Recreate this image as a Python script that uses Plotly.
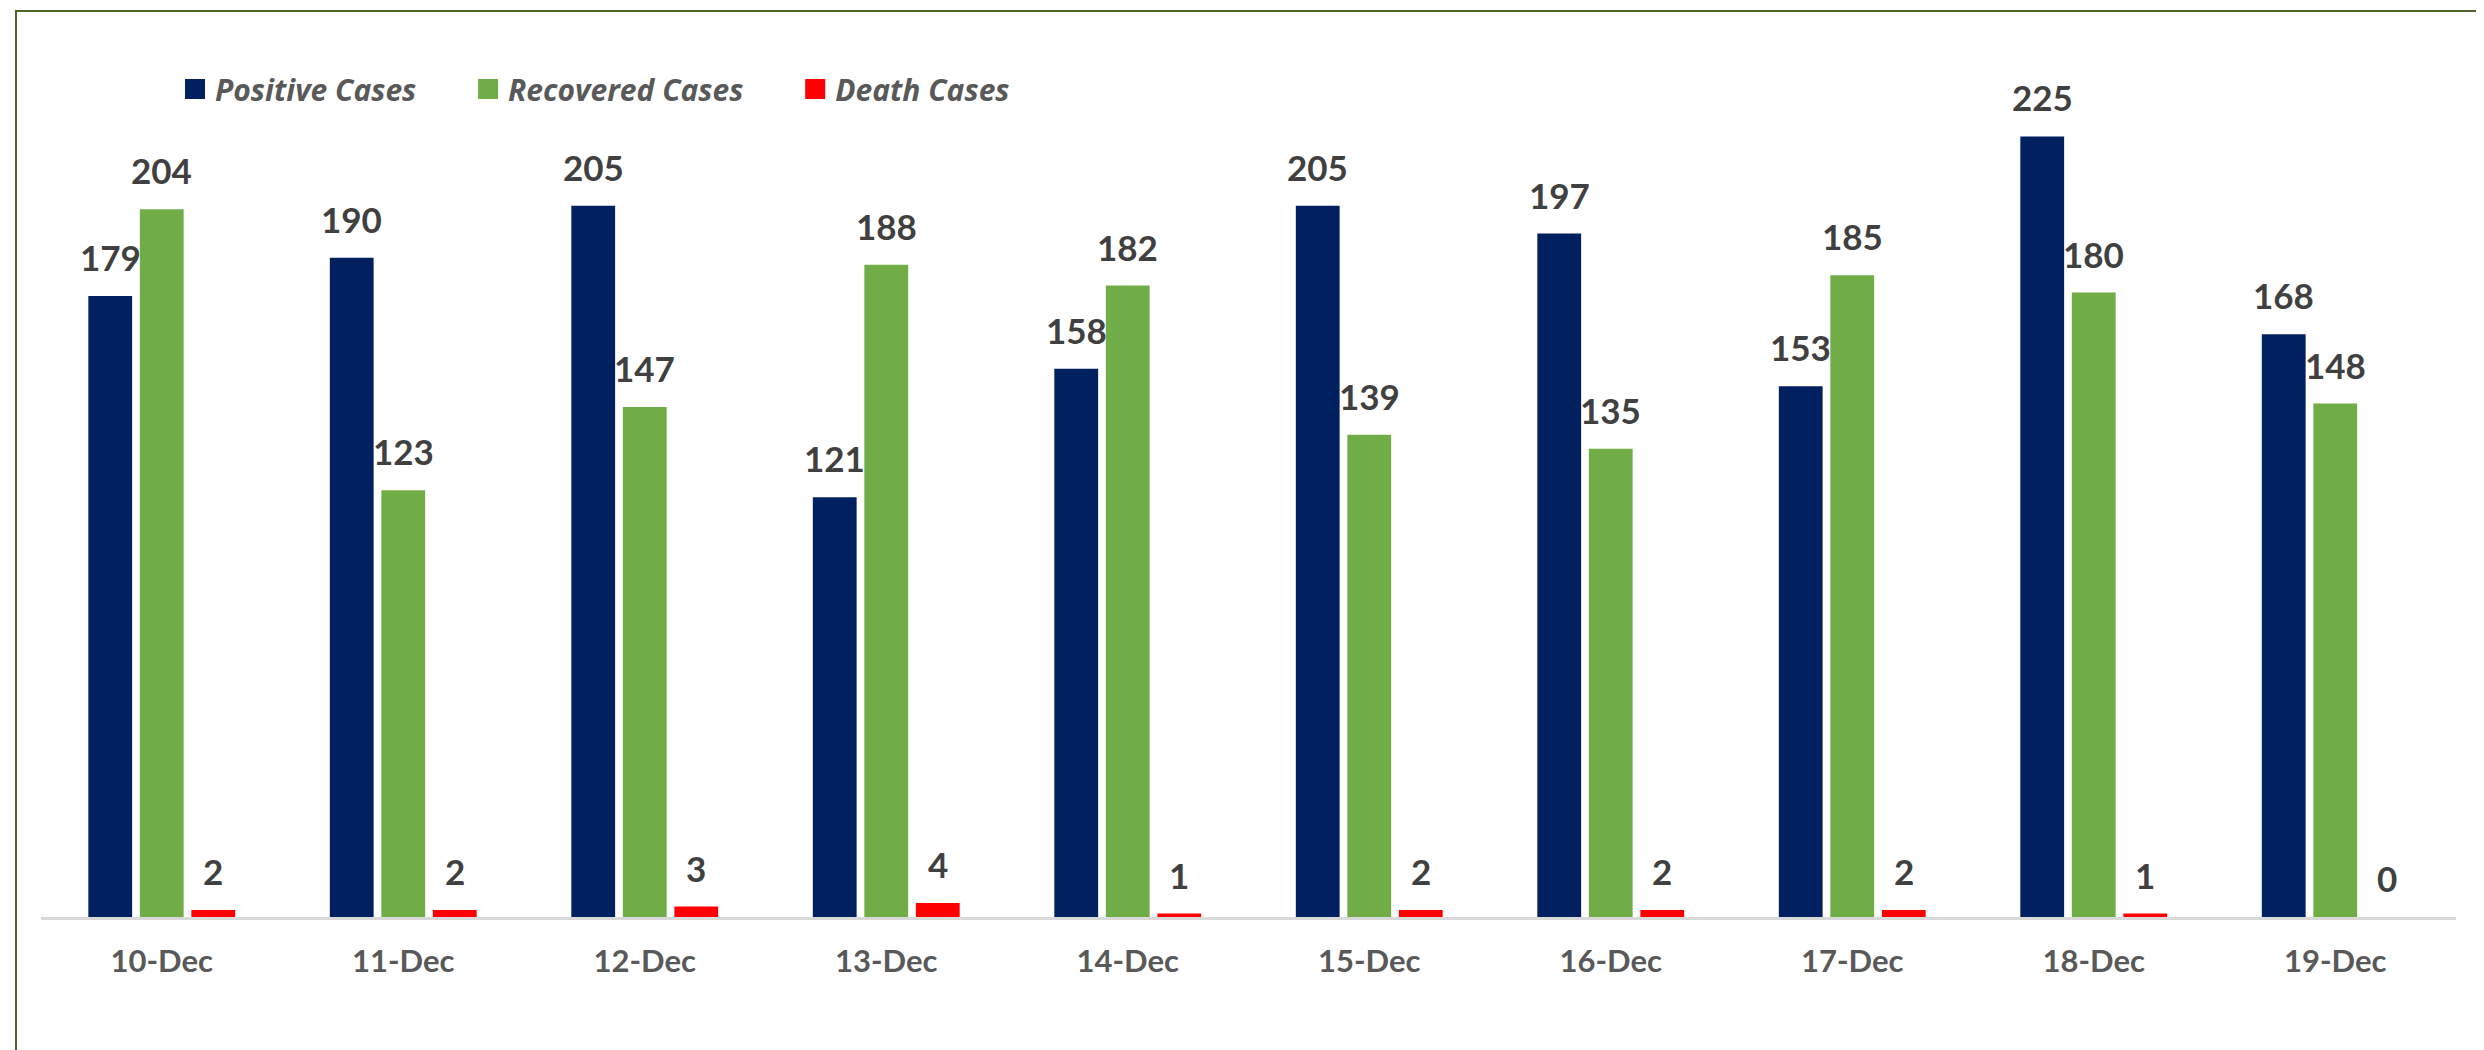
import plotly.graph_objects as go

categories = ["10-Dec", "11-Dec", "12-Dec", "13-Dec", "14-Dec", "15-Dec", "16-Dec", "17-Dec", "18-Dec", "19-Dec"]
positive = [179, 190, 205, 121, 158, 205, 197, 153, 225, 168]
recovered = [204, 123, 147, 188, 182, 139, 135, 185, 180, 148]
deaths = [2, 2, 3, 4, 1, 2, 2, 2, 1, 0]

series_names = ["Positive Cases", "Recovered Cases", "Death Cases"]
series_colors = ["#002060", "#70AD47", "#FF0000"]

W, H = 2484, 1050
ML, MR, MT, MB = 33, 36, 59, 141
BARGAP = 0.36
BARGROUPGAP = 0.15
YMAX = 245
FONT = "Lato, 'Open Sans', sans-serif"
LEGEND_FONT = "'Open Sans', Lato, sans-serif"
PAD = "\u00a0" * 6

plot_w = W - ML - MR
plot_h = H - MT - MB

fig = go.Figure()
all_series = [positive, recovered, deaths]
for name, vals, col in zip(series_names, all_series, series_colors):
    fig.add_trace(go.Bar(x=categories, y=vals, name=name, marker=dict(color=col, line=dict(width=0)),
                         showlegend=False, cliponaxis=False))
    # legend proxy
    fig.add_trace(go.Scatter(x=[None], y=[None], mode="markers", name=name + PAD,
                             marker=dict(symbol="square", size=16, color=col, line=dict(color=col, width=4))))

# data labels (placed over each bar, offset computed from the bar layout)
cat_w = plot_w / len(categories)
slot = cat_w * (1 - BARGAP) / len(all_series)
annotations = []
for i, vals in enumerate(all_series):
    shift = (i - (len(all_series) - 1) / 2) * slot
    for c, v in zip(categories, vals):
        annotations.append(dict(x=c, y=v, xref="x", yref="y", text=str(v), showarrow=False,
                                xshift=shift, yshift=16, yanchor="bottom",
                                font=dict(family=FONT, size=35, color="#404040", weight="bold")))

x0 = (8 - ML) / plot_w
y0 = (H - MB - 3) / plot_h
fig.update_layout(
    width=W, height=H,
    margin=dict(l=ML, r=MR, t=MT, b=MB, autoexpand=False),
    paper_bgcolor="white", plot_bgcolor="white",
    barmode="group", bargap=BARGAP, bargroupgap=BARGROUPGAP,
    font=dict(family=FONT),
    annotations=annotations,
    legend=dict(orientation="h", xref="paper", yref="paper",
                x=(167 - ML) / plot_w, y=(H - MB - 81) / plot_h,
                xanchor="left", yanchor="middle", itemsizing="trace",
                font=dict(family=LEGEND_FONT, size=30, color="#595959", style="italic", weight="bold"),
                bgcolor="rgba(0,0,0,0)"),
    xaxis=dict(type="category", showgrid=False, showline=True, linecolor="#D9D9D9", linewidth=3,
               ticks="outside", ticklen=15, tickcolor="rgba(0,0,0,0)",
               tickfont=dict(family=FONT, size=31, color="#595959", weight="bold"),
               range=[-0.5, len(categories) - 0.5], zeroline=False),
    yaxis=dict(range=[0, YMAX], visible=False, showgrid=False, zeroline=False),
    shapes=[dict(type="path", xref="paper", yref="paper",
                 path=f"M {x0},-0.5 L {x0},{y0} L 1.5,{y0}",
                 line=dict(color="#4F6228", width=2))],
)

fig.write_html("out.html")
